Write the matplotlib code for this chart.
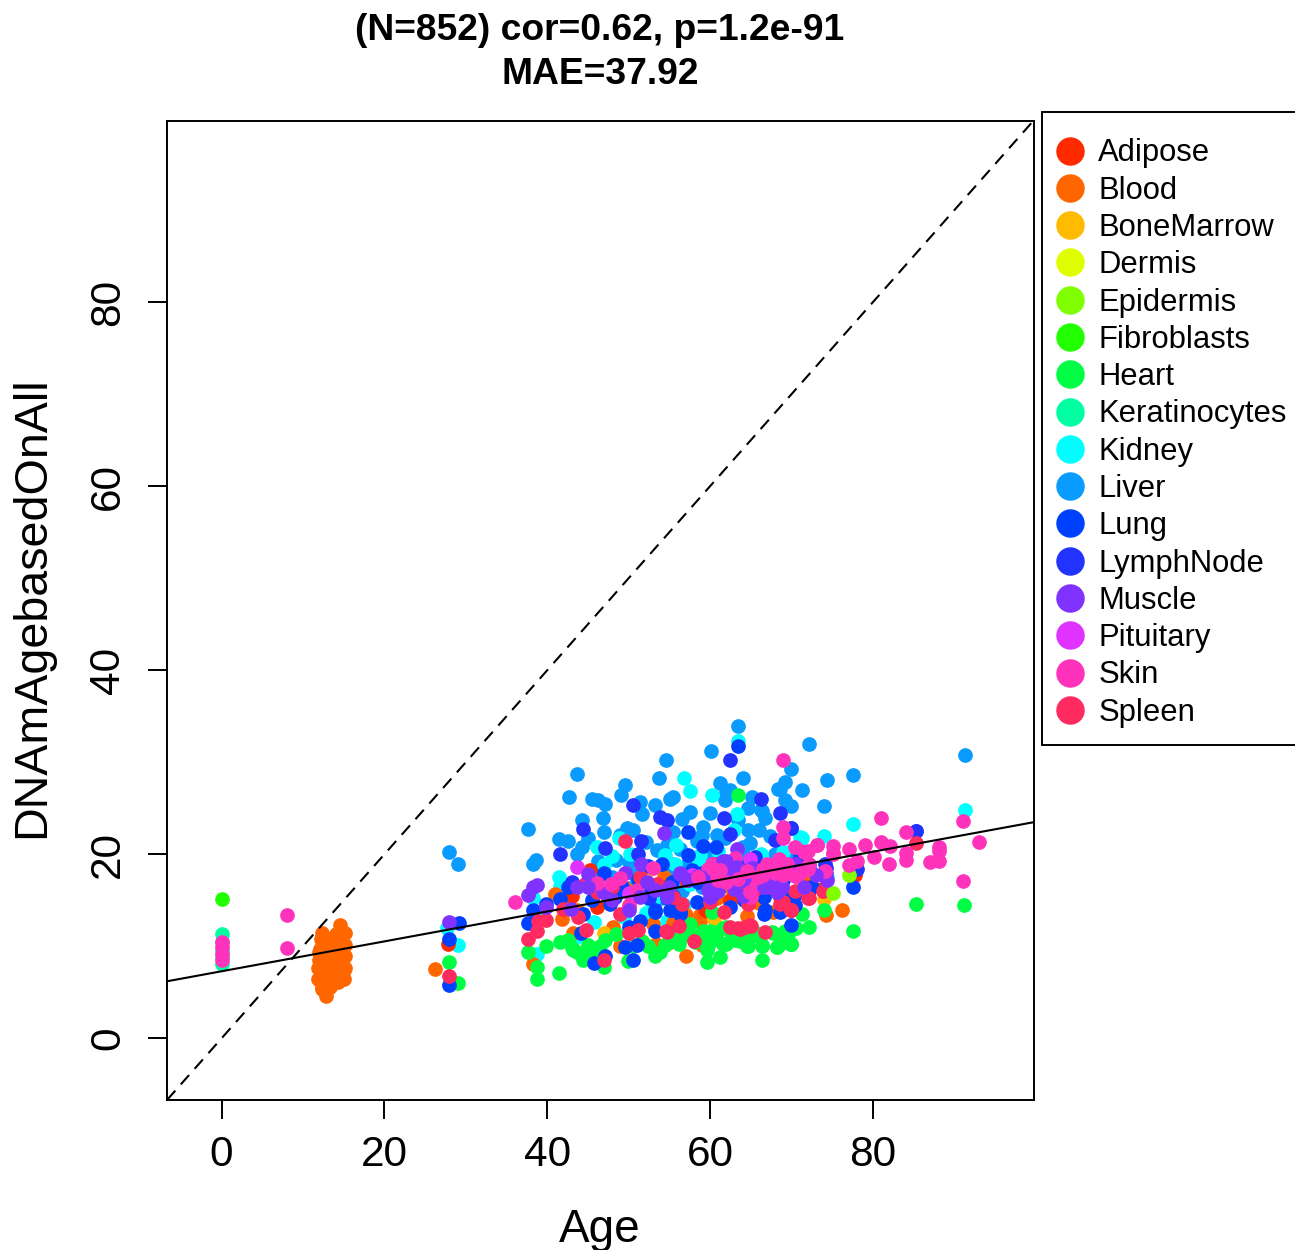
import matplotlib
matplotlib.use('Agg')
from matplotlib import pyplot as plt
from matplotlib.lines import Line2D
from matplotlib.patches import Rectangle

plt.rcParams['font.family'] = ['Liberation Sans', 'DejaVu Sans']

tissues = ['Adipose', 'Blood', 'BoneMarrow', 'Dermis', 'Epidermis', 'Fibroblasts', 'Heart',
           'Keratinocytes', 'Kidney', 'Liver', 'Lung', 'LymphNode', 'Muscle', 'Pituitary',
           'Skin', 'Spleen']
colors = ['#FF2A00', '#FF6600', '#FFBB00', '#DFFF00', '#80FF00', '#22FF00', '#00FF44',
          '#00FFA0', '#00FFFF', '#0A9BFF', '#0040FF', '#2233FF', '#8033FF', '#E033FF',
          '#FF33BB', '#FF2A60']

adipose_age = [27.8, 46.1, 59.6, 65.1, 60.4, 62.5, 45.3, 51.8, 59.5, 68.6, 72.2, 73.7, 77.8, 71.0, 63.5, 54.5, 43.0,
               71.0, 68.0, 62.5, 59.4, 66.0, 57.0]
adipose_val = [10.3, 14.3, 13.9, 17.6, 19.0, 15.0, 18.3, 17.5, 14.6, 15.4, 16.4, 16.2, 17.7, 20.1, 18.0, 16.5, 15.5,
               20.4, 17.7, 14.8, 13.9, 18.5, 17.2]

blood_age = [12.4, 12.0, 11.9, 11.9, 12.3, 12.8, 13.3, 14.55, 15.2, 15.2, 15.2, 15.2, 15.0,
             12.2, 12.6, 13.0, 13.4, 13.8, 14.2, 14.6, 12.1, 12.5, 12.9, 13.3, 13.7, 14.1, 14.5, 14.9,
             12.0, 12.4, 12.8, 13.2, 13.6, 14.0, 14.4, 14.8, 12.2, 12.6, 13.0, 13.4, 13.8, 14.2, 14.6, 15.0,
             12.1, 12.5, 12.9, 13.3, 13.7, 14.1, 14.5, 12.3, 12.8, 13.3, 13.8, 14.3, 14.0, 14.9, 14.7, 13.0,
             26.2, 38.3, 41.0, 41.8, 43.2, 48.1, 48.3, 48.9, 53.0, 54.3, 57.1, 57.1, 58.8, 59.0, 64.5, 67.8,
             76.2, 74.2, 54.9, 43.7, 47.5, 61.5, 42.5, 71.5, 49.5, 66.0,
             59.2, 53.4, 58.8, 60.8, 72.0, 55.5, 62.5, 50.0]
blood_val = [11.5, 9.4, 7.7, 6.5, 5.6, 4.6, 5.6, 12.3, 11.5, 10.1, 9.0, 7.7, 6.5,
             10.8, 10.4, 10.8, 10.6, 10.2, 10.7, 11.0, 9.7, 9.9, 9.5, 9.8, 9.4, 9.9, 9.6, 10.3,
             8.5, 8.7, 8.9, 8.4, 8.8, 8.5, 8.9, 8.6, 7.2, 7.6, 7.9, 7.4, 7.8, 7.3, 7.7, 7.4,
             6.3, 6.7, 6.4, 6.8, 6.3, 6.7, 6.4, 5.4, 5.2, 5.8, 6.0, 6.1, 11.3, 9.2, 8.1, 6.0,
             7.5, 8.1, 15.7, 13.0, 11.5, 12.1, 11.4, 10.0, 12.4, 17.5, 9.0, 13.4, 12.8, 10.1, 13.3, 13.7,
             14.0, 13.4, 10.4, 13.9, 15.0, 16.6, 14.6, 17.0, 16.3, 14.7,
             10.3, 10.3, 13.4, 15.2, 15.5, 12.5, 16.5, 14.5]

bonemarrow_age = [47.0, 74.0, 60.5, 52.0]
bonemarrow_val = [11.5, 15.1, 13.0, 17.8]

dermis_age = [69.0, 70.0]
dermis_val = [18.9, 18.0]

epidermis_age = [75.1, 77.1]
epidermis_val = [15.8, 17.7]

fibroblasts_age = [0]
fibroblasts_val = [15.1]

heart_age = [28.0, 29.1, 85.3, 91.2, 77.6, 72.2, 71.3, 74.0, 70.0, 38.8, 41.5, 38.8, 37.7, 39.9, 41.6, 42.6, 43.7,
             44.4, 45.0, 46.5, 47.1, 47.0, 49.9, 50.5, 51.6, 53.2, 53.9, 54.5, 55.7, 57.5, 56.9, 59.0, 59.6, 61.2,
             59.8, 60.4, 61.6, 63.1, 64.7, 66.4, 66.4, 68.2, 69.2, 70.0, 60.2, 63.5, 67.6, 60.0, 64.9, 69.0, 62.0,
             43.0, 44.7, 46.0, 48.5, 52.4, 55.0, 56.2, 58.2, 60.9, 62.7, 65.6, 68.6, 69.6, 70.6,
             59.2, 60.6, 62.0, 63.7, 65.1, 61.6, 67.8, 59.6, 57.3, 57.5, 66.4, 68.2, 69.9, 55.5, 54.5, 43.2, 46.1, 64.5]
heart_val = [8.3, 6.0, 14.6, 14.5, 11.7, 12.1, 13.5, 14.0, 10.3, 6.5, 7.1, 7.8, 9.4, 10.0, 10.5, 10.7, 9.4,
             8.5, 10.1, 10.0, 10.7, 7.8, 8.4, 10.0, 10.6, 9.0, 9.4, 10.1, 10.7, 12.4, 11.2, 11.4, 8.3, 8.8,
             10.0, 11.0, 10.3, 10.7, 10.0, 10.0, 8.5, 9.9, 11.7, 10.3, 13.7, 26.5, 11.6, 11.7, 11.0, 10.8, 12.1,
             9.8, 9.0, 9.4, 11.3, 10.0, 11.4, 10.3, 10.5, 11.6, 11.2, 11.4, 10.3, 11.3, 12.0,
             11.7, 10.8, 10.3, 10.6, 11.2, 12.0, 11.5, 9.6, 12.3, 11.2, 10.1, 9.9, 10.3, 10.6, 10.1, 9.6, 9.2, 10.0]

keratinocytes_age = [0, 0, 0, 0, 0]
keratinocytes_val = [11.3, 10.5, 9.6, 8.8, 8.1]

kidney_age = [29.1, 27.7, 77.6, 74.0, 71.3, 91.3, 63.4, 56.8, 57.5, 60.3, 63.3, 46.1, 47.0, 41.5, 41.6, 38.2, 38.8,
              43.6, 45.7, 49.4, 54.5, 54.7, 66.3, 69.0, 71.0, 58.6, 53.0, 50.2, 48.8, 58.8, 63.0, 48.0, 55.8, 74.4,
              39.5, 42.5, 52.2, 61.0, 70.5,
              55.7, 67.8, 72.3, 52.6, 54.5, 57.5, 59.5, 56.8]
kidney_val = [10.2, 12.0, 23.3, 22.0, 21.8, 24.8, 32.3, 28.3, 26.9, 26.5, 24.4, 20.8, 18.8, 17.5, 16.6, 15.2, 9.2,
              11.0, 12.6, 13.2, 19.9, 12.8, 20.0, 20.2, 21.9, 19.0, 15.0, 20.0, 21.8, 19.9, 22.6, 19.8, 21.0, 17.5,
              14.0, 15.6, 13.6, 20.4, 18.0,
              19.0, 16.8, 17.5, 15.0, 16.5, 16.8, 18.0, 14.5]

liver_age = [28.0, 29.1, 63.4, 60.1, 54.6, 43.7, 42.7, 53.7, 49.5, 61.2, 64.1, 69.2, 70.0, 68.6, 45.5, 46.3, 47.1,
             49.1, 51.4, 51.6, 53.2, 55.5, 55.1, 57.5, 56.5, 60.0, 62.5, 61.8, 64.7, 65.1, 66.4, 66.8, 69.2, 70.0,
             63.5, 64.7, 64.9, 67.4, 44.3, 46.9, 47.0, 37.7, 41.5, 42.5, 45.0, 44.3, 43.7, 38.6, 38.2, 48.9, 50.5,
             48.5, 50.0, 46.3, 55.5, 56.3, 59.1, 59.0, 60.8, 55.3, 57.1, 54.7, 69.8, 72.2, 74.4, 77.6, 71.3, 74.0,
             91.3, 50.8, 52.5, 58.0, 61.3, 66.0, 68.0, 71.0, 61.8, 64.0,
             62.0, 66.3, 68.4, 58.4, 60.2, 53.5, 55.0, 48.0, 46.5, 50.0, 54.0, 56.5, 59.0, 64.0, 66.5, 52.2, 49.8]
liver_val = [20.2, 18.9, 34.0, 31.2, 30.3, 28.7, 26.2, 28.3, 27.5, 27.7, 28.3, 27.9, 29.3, 27.1, 26.0, 25.9, 25.5,
             26.4, 25.7, 24.4, 25.4, 26.2, 26.0, 24.6, 23.8, 24.5, 27.0, 25.9, 25.0, 26.2, 24.7, 23.9, 25.9, 25.3,
             23.7, 22.6, 21.2, 22.0, 23.7, 23.9, 22.4, 22.7, 21.7, 21.4, 21.8, 20.8, 20.0, 19.4, 19.0, 22.1, 22.6,
             19.4, 19.2, 19.3, 22.4, 20.6, 23.0, 22.1, 22.1, 19.0, 18.7, 21.0, 20.2, 32.0, 28.1, 28.6, 27.0, 25.2,
             30.8, 17.8, 18.5, 17.5, 19.4, 22.6, 20.0, 18.5, 21.8, 20.8,
             26.8, 24.8, 27.1, 21.5, 19.7, 20.5, 17.6, 17.5, 17.8, 16.3, 15.2, 16.0, 16.5, 20.0, 18.7, 21.3, 22.9]

lung_age = [29.2, 28.0, 27.9, 85.3, 77.6, 45.7, 47.1, 50.6, 49.6, 51.0, 53.2, 50.0, 51.4, 44.4, 44.2, 37.7, 38.3,
            41.6, 39.9, 42.6, 48.3, 53.2, 54.7, 55.1, 56.3, 58.4, 62.5, 66.6, 66.8, 70.0, 51.2, 54.1, 57.3, 57.3,
            63.4, 59.2, 60.7, 70.0, 70.0, 47.7, 52.6, 60.2, 64.2, 69.0, 72.0, 64.8, 63.5, 57.8,
            66.6, 64.7, 71.0, 68.6, 56.3, 55.3, 53.2, 58.5, 61.0, 67.5, 72.5, 49.2, 47.0, 52.4, 45.5, 55.3, 60.5, 65.4, 70.5]
lung_val = [12.5, 10.8, 5.8, 22.5, 16.5, 8.2, 9.0, 8.5, 9.9, 10.1, 11.7, 12.1, 12.8, 13.5, 11.4, 12.5, 14.0,
            15.1, 14.6, 16.4, 15.4, 13.9, 15.2, 13.9, 13.5, 14.8, 14.3, 13.5, 13.9, 15.7, 17.3, 19.0, 22.4, 19.9,
            31.8, 20.9, 20.8, 22.9, 12.3, 14.6, 16.4, 15.6, 15.0, 17.2, 15.9, 17.8, 19.0, 18.3,
            15.4, 18.4, 19.9, 13.7, 13.7, 13.9, 13.7, 17.0, 19.0, 17.5, 16.5, 16.5, 18.0, 18.7, 15.0, 17.0, 18.4, 16.5, 14.5]

lymphnode_age = [62.5, 66.3, 50.5, 44.4, 47.1, 41.6, 51.5, 51.2, 53.8, 54.7, 61.7, 62.4, 68.6, 68.0, 70.0, 71.3, 74.2, 78.1, 85.3,
                 74.1, 71.0, 55.5, 59.0, 52.5, 65.5, 48.5, 43.0]
lymphnode_val = [30.2, 26.0, 25.4, 22.8, 20.7, 20.0, 21.4, 20.0, 24.1, 23.7, 24.0, 22.2, 24.5, 21.6, 22.9, 15.9, 18.5, 18.4, 22.5,
                 19.0, 15.9, 15.5, 18.0, 15.3, 19.7, 16.8, 17.0]

muscle_age = [28.0, 38.8, 38.2, 37.7, 39.9, 43.7, 45.0, 46.9, 49.6, 51.5, 54.3, 56.3, 57.3, 53.2, 51.4, 50.0, 63.3,
              62.0, 59.8, 60.0, 64.3, 66.6, 68.2, 68.8, 42.9, 74.4, 61.2, 65.2, 67.4, 70.5, 55.0, 52.3, 48.0, 72.2,
              58.5, 63.0,
              60.2, 60.0, 59.6, 61.6, 63.3, 62.3, 64.1, 66.6, 68.2, 68.8, 74.3, 57.3, 56.3, 54.7, 45.0, 61.0, 64.0, 71.5, 73.0]
muscle_val = [12.6, 16.7, 16.5, 15.6, 14.3, 16.4, 17.9, 15.9, 18.0, 19.0, 22.3, 18.0, 17.2, 16.1, 15.4, 13.9, 20.6,
              19.3, 16.1, 15.4, 17.2, 16.5, 15.9, 16.5, 14.1, 17.2, 18.3, 18.5, 17.2, 18.9, 16.4, 17.0, 15.0, 18.7,
              17.6, 16.2,
              15.7, 16.8, 17.5, 19.3, 18.6, 18.3, 17.2, 16.4, 15.9, 16.4, 18.0, 17.2, 17.9, 15.4, 16.5, 16.0, 15.5, 16.5, 17.8]

pituitary_age = [43.7, 64.9, 50.0, 57.8]
pituitary_val = [18.6, 19.5, 15.8, 17.8]

skin_age = [0, 0, 0, 0, 8, 8, 36.0, 46.1, 47.9, 49.0, 51.0, 50.0, 53.0, 59.8, 60.2, 61.0, 63.1, 62.0, 61.0, 67.0,
            65.9, 65.1, 65.0, 69.0, 69.0, 69.0, 69.0, 70.0, 71.0, 81.0, 84.1, 91.1, 93.1, 81.0, 82.1, 79.1, 77.1,
            75.1, 75.1, 73.1, 80.1, 78.0, 77.1, 82.0, 84.1, 84.1, 88.1, 88.1, 88.1, 87.0, 91.1, 74.1, 72.2, 71.5,
            70.5, 68.0, 66.5, 64.5, 63.5, 60.8, 58.5,
            60.2, 61.2, 61.0, 62.0, 64.9, 65.9, 69.0, 71.0, 72.1, 72.1, 73.1, 75.1, 66.5, 67.8, 69.5, 68.5, 70.5]
skin_val = [10.5, 9.9, 9.2, 8.5, 13.4, 9.85, 14.8, 16.9, 16.8, 17.4, 16.1, 14.4, 18.5, 18.4, 19.0, 18.3, 19.6, 17.0, 17.0, 18.9,
            17.7, 16.3, 15.4, 23.0, 21.8, 30.3, 17.9, 18.1, 18.5, 23.9, 22.4, 23.6, 21.3, 21.3, 20.9, 21.0, 20.6,
            20.9, 20.1, 21.0, 19.7, 19.3, 18.8, 19.0, 20.1, 19.4, 20.8, 20.4, 19.3, 19.2, 17.1, 18.2, 19.0, 20.2,
            20.8, 18.0, 18.4, 18.2, 17.3, 17.6, 17.5,
            18.5, 18.3, 17.2, 17.0, 15.9, 17.5, 17.7, 18.0, 18.4, 20.4, 21.0, 20.0, 17.8, 18.5, 19.0, 19.5, 17.6]

spleen_age = [28.0, 85.3, 72.2, 73.9, 69.9, 49.6, 46.1, 44.6, 39.9, 38.9, 38.7, 37.7, 42.0, 43.8, 44.8, 47.0, 50.0,
              51.2, 54.6, 56.2, 58.0, 56.5, 55.5, 61.7, 62.5, 63.5, 64.3, 65.0, 66.8, 64.7, 69.0, 69.9, 63.3, 51.4,
              68.6, 70.0, 72.1, 63.7, 64.9, 54.7, 65.5, 67.5, 70.4, 48.0, 60.0, 53.5, 49.0]
spleen_val = [6.8, 21.2, 15.2, 16.0, 14.0, 21.4, 15.9, 16.8, 12.9, 12.8, 11.7, 10.8, 14.1, 13.2, 11.8, 8.5, 11.4,
              11.8, 11.7, 12.2, 10.6, 14.6, 15.4, 13.7, 12.1, 12.0, 12.1, 12.2, 11.6, 14.6, 14.8, 13.9, 16.3, 17.5,
              14.6, 13.9, 15.2, 11.9, 12.3, 11.6, 16.2, 16.4, 16.0, 16.5, 14.8, 16.8, 13.5]

fit_intercept = 7.29
fit_slope = 0.1624

series = {
    'Adipose': (adipose_age, adipose_val),
    'Blood': (blood_age, blood_val),
    'BoneMarrow': (bonemarrow_age, bonemarrow_val),
    'Dermis': (dermis_age, dermis_val),
    'Epidermis': (epidermis_age, epidermis_val),
    'Fibroblasts': (fibroblasts_age, fibroblasts_val),
    'Heart': (heart_age, heart_val),
    'Keratinocytes': (keratinocytes_age, keratinocytes_val),
    'Kidney': (kidney_age, kidney_val),
    'Liver': (liver_age, liver_val),
    'Lung': (lung_age, lung_val),
    'LymphNode': (lymphnode_age, lymphnode_val),
    'Muscle': (muscle_age, muscle_val),
    'Pituitary': (pituitary_age, pituitary_val),
    'Skin': (skin_age, skin_val),
    'Spleen': (spleen_age, spleen_val),
}
draw_order = ['Liver', 'Kidney', 'Blood', 'Adipose', 'BoneMarrow', 'Keratinocytes', 'Fibroblasts', 'Heart',
              'Lung', 'LymphNode', 'Spleen', 'Dermis', 'Epidermis', 'Pituitary']

W, H = 1295, 1250
fig = plt.figure(figsize=(W / 100, H / 100), dpi=100)
ax = fig.add_axes([167 / W, 1 - 1100 / H, (1034 - 167) / W, (1100 - 121) / H])

color_of = dict(zip(tissues, colors))
for name in draw_order:
    xs, ys = series[name]
    ax.scatter(xs, ys, s=112, color=color_of[name], linewidths=0, zorder=2)

# muscle and skin lie over each other both ways, so they go in one point at a time
for i in range(max(len(muscle_age), len(skin_age))):
    if i < len(muscle_age):
        ax.scatter(muscle_age[i], muscle_val[i], s=112, color=color_of['Muscle'], linewidths=0, zorder=2)
    if i < len(skin_age):
        ax.scatter(skin_age[i], skin_val[i], s=112, color=color_of['Skin'], linewidths=0, zorder=2)

ax.axline((0, 0), slope=1, color='k', lw=1.5, dashes=(6, 4), zorder=3)
ax.axline((0, fit_intercept), slope=fit_slope, color='k', lw=1.5, zorder=3)

ax.set_xlim(-6.7, 99.8)
ax.set_ylim(-6.7, 99.7)
ax.set_xticks([0, 20, 40, 60, 80])
ax.set_yticks([0, 20, 40, 60, 80])
ax.tick_params(axis='both', length=14, width=1.4, labelsize=30.5)
ax.tick_params(axis='x', pad=11)
ax.tick_params(axis='y', pad=14)
plt.setp(ax.get_yticklabels(), rotation=90, va='center')
for s in ax.spines.values():
    s.set_linewidth(1.4)

fig.text(600 / W, 1 - 30 / H, '(N=852) cor=0.62, p=1.2e-91', ha='center', va='center', fontsize=26.8, fontweight='bold')
fig.text(600 / W, 1 - 74 / H, 'MAE=37.92', ha='center', va='center', fontsize=26.8, fontweight='bold')
fig.text(600 / W, 1 - 1230 / H, 'Age', ha='center', va='center', fontsize=33)
fig.text(32 / W, 1 - 607 / H, 'DNAmAgebasedOnAll', ha='center', va='center', rotation=90, fontsize=33.6)

# legend box runs off the right edge in the original, so it is drawn by hand
fig.add_artist(Rectangle((1042 / W, 1 - 745 / H), 300 / W, (745 - 112) / H, transform=fig.transFigure,
                         fc='white', ec='k', lw=1.4))
handles = [Line2D([], [], marker='o', ls='', ms=20.5, mfc=c, mec='none') for c in colors]
fig.legend(handles, tissues, loc='upper left', bbox_to_anchor=(1055 / W, 1 - 138.5 / H), borderaxespad=0,
           fontsize=22.3, frameon=False, handlelength=1.0, handletextpad=0.4, labelspacing=0.235, borderpad=0)

fig.savefig('out.png', dpi=100)
